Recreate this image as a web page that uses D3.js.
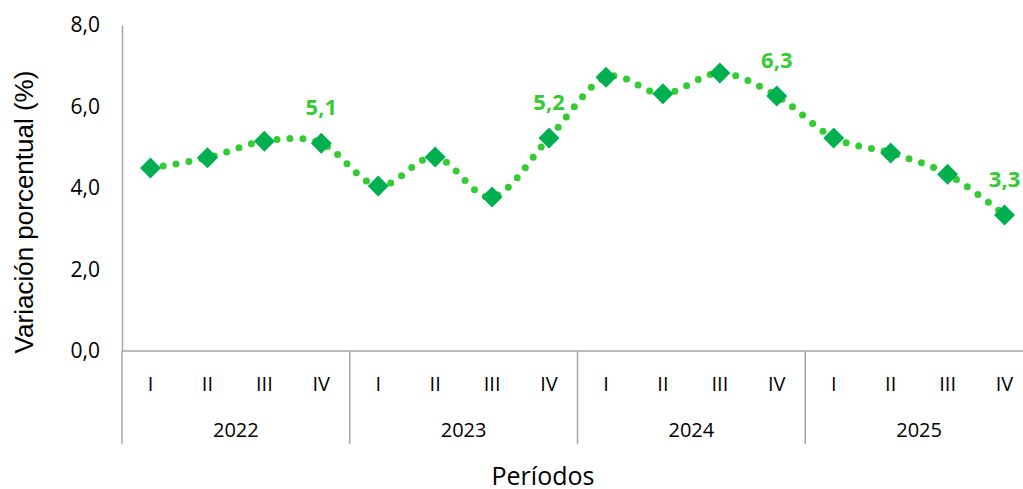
<!DOCTYPE html>
<html>
<head>
<meta charset="utf-8">
<script src="https://cdn.jsdelivr.net/npm/d3@7"></script>
<style>
  body { margin: 0; background: #fff; }
  svg { display: block; font-family: "Open Sans", Lato, sans-serif; }
</style>
</head>
<body>
<svg width="1023" height="489"></svg>
<script>
var width = 1023;
var height = 489;

// data
var years = ["2022", "2023", "2024", "2025"];
var quarters = ["I", "II", "III", "IV"];
var values = [4.49, 4.74, 5.15, 5.10,
              4.05, 4.76, 3.78, 5.23,
              6.72, 6.31, 6.82, 6.26,
              5.23, 4.86, 4.34, 3.34];
var yTicks = [0, 2, 4, 6, 8];
// labelled points: index into values, text
var labelIdx = [3, 7, 11, 15];
var labelText = ["5,1", "5,2", "6,3", "3,3"];

var lineColor = "#33cc33";
var markColor = "#00b050";
var axisColor = "#a6a6a6";

var svg = d3.select("svg");

var plotL = 122, plotR = 1033, plotT = 25, plotB = 351;

var periods = [];
years.forEach(function (yr) {
  quarters.forEach(function (q) { periods.push(yr + "-" + q); });
});

var x = d3.scaleBand().domain(periods).range([plotL, plotR]);
var xYear = d3.scaleBand().domain(years).range([plotL, plotR]);
var y = d3.scaleLinear().domain([0, 8]).range([plotB, plotT]);

var fmt = function (d) { return d3.format(".1f")(d).replace(".", ","); };

//--------------------------------------------------------------------------
// axes
//--------------------------------------------------------------------------
var yAxis = svg.append("g")
    .attr("transform", "translate(" + plotL + ",0)")
    .call(d3.axisLeft(y).tickValues(yTicks).tickSize(0).tickPadding(22).tickFormat(fmt));
yAxis.select(".domain").attr("stroke", axisColor).attr("stroke-width", 1.5);
yAxis.selectAll("text").attr("font-size", 21).attr("fill", "#000")
    .attr("font-family", "'Open Sans', Lato, sans-serif");

svg.append("line")
    .attr("x1", plotL).attr("x2", plotR)
    .attr("y1", y(0)).attr("y2", y(0))
    .attr("stroke", axisColor).attr("stroke-width", 1.5);

// group separators
years.forEach(function (yr) {
  var x0 = xYear(yr);
  svg.append("line")
      .attr("x1", x0).attr("x2", x0)
      .attr("y1", y(0)).attr("y2", 444)
      .attr("stroke", axisColor).attr("stroke-width", 1.5);
});

svg.append("g").selectAll("text")
    .data(periods)
    .join("text")
    .attr("x", function (d) { return x(d) + x.bandwidth() / 2; })
    .attr("y", 391)
    .attr("text-anchor", "middle")
    .attr("font-size", 20)
    .text(function (d) { return d.split("-")[1]; });

svg.append("g").selectAll("text")
    .data(years)
    .join("text")
    .attr("x", function (d) { return xYear(d) + xYear.bandwidth() / 2; })
    .attr("y", 437)
    .attr("text-anchor", "middle")
    .attr("font-size", 20)
    .text(function (d) { return d; });

svg.append("text")
    .attr("x", 543).attr("y", 485)
    .attr("text-anchor", "middle")
    .attr("font-size", 25)
    .text("Períodos");

svg.append("text")
    .attr("transform", "translate(33,212) rotate(-90)")
    .attr("text-anchor", "middle")
    .attr("font-family", "'Liberation Sans', Arial, sans-serif")
    .attr("font-size", 26)
    .text("Variación porcentual (%)");

//--------------------------------------------------------------------------
// line + markers
//--------------------------------------------------------------------------
var cx = function (d, i) { return x(periods[i]) + x.bandwidth() / 2; };

var line = d3.line()
    .x(cx)
    .y(function (d) { return y(d); })
    .curve(d3.curveCardinal.tension(0));

svg.append("path")
    .datum(values)
    .attr("d", line)
    .attr("fill", "none")
    .attr("stroke", lineColor)
    .attr("stroke-width", 7)
    .attr("stroke-linecap", "round")
    .attr("stroke-dasharray", "0 13");

var s = 10.5;
svg.append("g").selectAll("path")
    .data(values)
    .join("path")
    .attr("d", function (d, i) {
      var px = cx(d, i), py = y(d);
      return "M" + px + "," + (py - s) + "L" + (px + s) + "," + py +
             "L" + px + "," + (py + s) + "L" + (px - s) + "," + py + "Z";
    })
    .attr("fill", markColor);

// data labels
svg.append("g").selectAll("text")
    .data(labelIdx)
    .join("text")
    .attr("x", function (d) { return cx(values[d], d); })
    .attr("y", function (d) { return y(values[d]) - 28; })
    .attr("text-anchor", "middle")
    .attr("font-size", 22)
    .attr("font-weight", "bold")
    .attr("fill", lineColor)
    .text(function (d, k) { return labelText[k]; });
</script>
</body>
</html>
